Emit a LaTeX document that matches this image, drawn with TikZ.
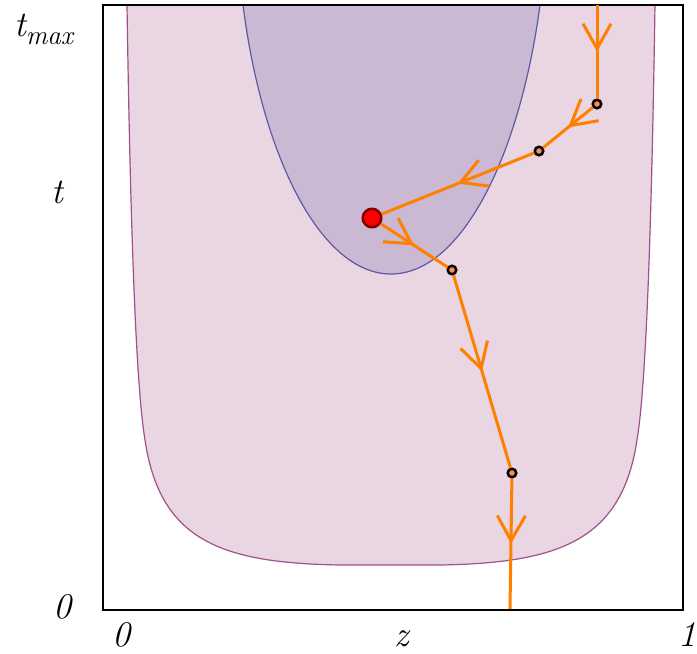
\documentclass[tikz,border=0pt]{standalone}
\usepackage{amsmath}
\usetikzlibrary{arrows.meta, decorations.markings}
\definecolor{regpink}{HTML}{EAD6E2}
\definecolor{edgepink}{HTML}{A0508A}
\definecolor{regpurple}{HTML}{CBB8D3}
\definecolor{edgepurple}{HTML}{5A5AA6}
\definecolor{trajorange}{HTML}{FF8000}
\definecolor{dotorange}{HTML}{FF8C50}
\definecolor{darkred}{HTML}{800000}
\NewDocumentCommand \sub{ m }{%
    \raisebox{-8pt}{\fontsize{27}{30}\selectfont #1}%
}
\begin{document}
\begin{tikzpicture}[x=1pt, y=-1pt]
    \tikzstyle{pt}=[circle, draw=black, fill=dotorange, line width=2.5pt, inner sep=0pt, minimum size=8.5pt]
    \tikzstyle{opt}=[circle, draw=darkred, fill=red, line width=2.5pt, inner sep=0pt, minimum size=18.5pt]
    \tikzstyle{traj}=[draw=trajorange, line width=3pt, postaction={decorate}, decoration={markings, mark=at position 0.5 with {\arrow{Straight Barb[length=25pt, width=28pt]}}}]
    \tikzstyle{lbl}=[font=\fontsize{36}{40}\selectfont\itshape, inner sep=0pt]
    \useasboundingbox (0,0) rectangle (697,654);
    \draw [edgepink, line width=1.2pt, fill=regpink] (127,5) .. controls (130,200) and (135,380) .. (145,440) .. controls (160,540) and (220,563) .. (340,565) -- (440,565) .. controls (560,563) and (622,540) .. (637,440) .. controls (647,380) and (652,200) .. (655,5) -- cycle ;
    \draw [edgepurple, line width=1.2pt, fill=regpurple] (243,5) .. controls (262,155) and (320,274) .. (391,274) .. controls (462,274) and (520,155) .. (540,5) -- cycle ;
    \draw [black, line width=1.5pt] (103,5) rectangle (683,610) ;
    \coordinate (start) at (597,5) ;
    \coordinate (stop) at (510,609) ;
    \draw (597,104) node[pt] (A) {} ;
    \draw (539,151) node[pt] (B) {} ;
    \draw (372,218) node[opt] (M) {} ;
    \draw (452,270) node[pt] (C) {} ;
    \draw (512,473) node[pt] (D) {} ;
    \draw[traj] (start) -- (A) ;
    \draw[traj] (A) -- (B) ;
    \draw[traj] (B) -- (M) ;
    \draw[traj] (M) -- (C) ;
    \draw[traj] (C) -- (D) ;
    \draw[traj] (D) -- (stop) ;
    \draw (14,36) node[lbl, anchor=base west] (tmax) {t\sub{max}} ;
    \draw (57,203) node[lbl, anchor=base] (tnow) {t} ;
    \draw (62,618) node[lbl, anchor=base] (tzero) {0} ;
    \draw (121,646) node[lbl, anchor=base] (zzero) {0} ;
    \draw (402,646) node[lbl, anchor=base] (zlab) {z} ;
    \draw (678,646) node[lbl, anchor=base west] (zone) {1} ;
\end{tikzpicture}
\end{document}
